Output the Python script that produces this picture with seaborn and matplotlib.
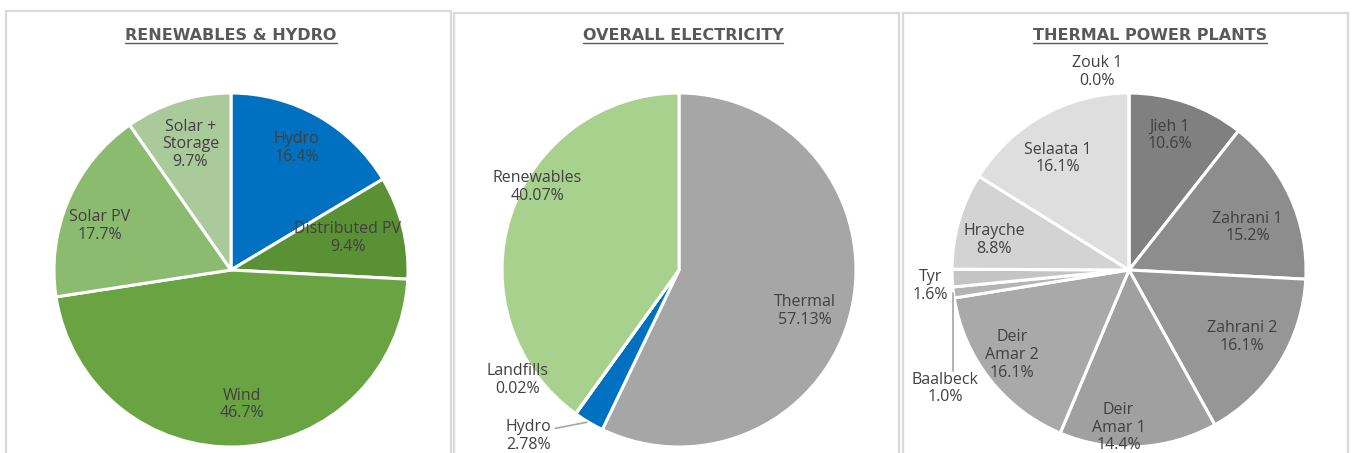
import matplotlib
matplotlib.use("Agg")
import matplotlib.pyplot as plt
import seaborn as sns
from matplotlib.patches import Rectangle
from matplotlib.lines import Line2D

sns.set_theme(style="white")
plt.rcParams['font.family'] = ['Open Sans', 'DejaVu Sans']

# ---------------- data ----------------
ren_labels = ["Hydro", "Distributed PV", "Wind", "Solar PV", "Solar +\nStorage"]
ren_values = [16.4, 9.4, 46.7, 17.7, 9.7]
ren_colors = ["#0070c0", "#5b9135", "#6aa442", "#8bbb6f", "#abca9c"]

ovr_labels = ["Thermal", "Hydro", "Landfills", "Renewables"]
ovr_values = [57.13, 2.78, 0.02, 40.07]
ovr_colors = ["#a6a6a6", "#0070c0", "#70ad47", "#a9d18e"]

thm_labels = ["Jieh 1", "Zahrani 1", "Zahrani 2", "Deir\nAmar 1", "Deir\nAmar 2",
              "Baalbeck", "Tyr", "Hrayche", "Selaata 1", "Zouk 1"]
thm_values = [10.6, 15.2, 16.1, 14.4, 16.1, 1.0, 1.6, 8.8, 16.1, 0.0]
thm_colors = ["#808080", "#8d8d8d", "#969696", "#a0a0a0", "#a9a9a9",
              "#b4b4b4", "#c4c4c4", "#d3d3d3", "#dedede", "#e8e8e8"]

titles = ["RENEWABLES & HYDRO", "OVERALL ELECTRICITY", "THERMAL POWER PLANTS"]

# ---------------- layout ----------------
W, H = 1354, 453
fig = plt.figure(figsize=(W / 100, H / 100), dpi=100)
fig.patch.set_facecolor("white")

panels = [(6, 11, 451), (454, 13, 899), (903, 13, 1348)]  # x0, top, x1
for x0, top, x1 in panels:
    fig.add_artist(Rectangle((x0 / W, -0.2), (x1 - x0) / W, (H - top) / H + 0.2,
                             transform=fig.transFigure, fill=False,
                             edgecolor="#d9d9d9", linewidth=1.6))

centers = [(231, 270), (679, 270), (1129, 270)]
R = 177
title_x = [231, 683, 1150]
title_y = 36

label_pos = [
    [(0.37, 0.69), (0.66, 0.18), (0.06, -0.76), (-0.74, 0.25), (-0.23, 0.71)],
    [(0.71, -0.23), (-0.85, -0.94), (-0.91, -0.62), (-0.80, 0.47)],
    [(0.23, 0.76), (0.67, 0.24), (0.64, -0.38), (-0.06, -0.89), (-0.66, -0.48),
     (-1.04, -0.67), (-1.12, -0.09), (-0.76, 0.17), (-0.40, 0.63), (-0.18, 1.12)],
]
fmt = ["{:.1f}%", "{:.2f}%", "{:.1f}%"]

datasets = [(ren_labels, ren_values, ren_colors),
            (ovr_labels, ovr_values, ovr_colors),
            (thm_labels, thm_values, thm_colors)]

text_color = "#404040"
axes = []
for i, ((cx, cy), (labels, values, colors)) in enumerate(zip(centers, datasets)):
    ax = fig.add_axes([(cx - R) / W, (H - cy - R) / H, 2 * R / W, 2 * R / H])
    ax.pie(values, colors=colors, startangle=90, counterclock=False, radius=1,
           wedgeprops=dict(edgecolor="white", linewidth=2.2))
    ax.set_xlim(-1, 1)
    ax.set_ylim(-1, 1)
    ax.set_aspect("equal")
    ax.axis("off")
    for lab, val, (lx, ly) in zip(labels, values, label_pos[i]):
        ax.text(lx, ly, lab + "\n" + fmt[i].format(val), ha="center", va="center",
                fontsize=11.5, color=text_color, linespacing=1.15, clip_on=False)
    axes.append(ax)

# leader lines
axes[1].add_line(Line2D([-0.70, -0.52], [-0.895, -0.86], color="#a6a6a6", lw=1.2, clip_on=False))
axes[2].add_line(Line2D([-0.995, -0.995], [-0.13, -0.57], color="#a6a6a6", lw=1.2, clip_on=False))

# titles with underline
title_texts = []
for tx, t in zip(title_x, titles):
    tt = fig.text(tx / W, 1 - title_y / H, t, ha="center", va="center",
                  fontsize=11.5, fontweight="bold", color="#595959",
                  family=["DejaVu Sans"])
    title_texts.append(tt)

fig.canvas.draw()
r = fig.canvas.get_renderer()
for tt in title_texts:
    bb = tt.get_window_extent(renderer=r)
    y = (bb.y0 + 1) / H
    fig.add_artist(Line2D([bb.x0 / W, bb.x1 / W], [y, y], transform=fig.transFigure,
                          color="#595959", lw=1.0))

fig.savefig("out.png", dpi=100, facecolor="white")
